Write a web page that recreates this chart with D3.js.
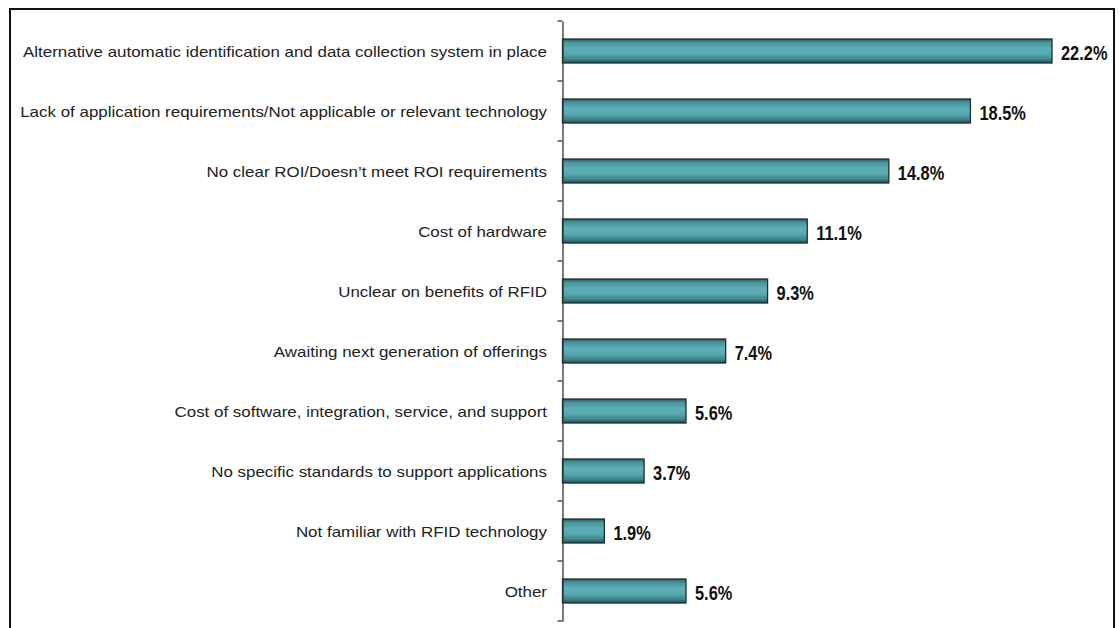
<!DOCTYPE html>
<html>
<head>
<meta charset="utf-8">
<script src="https://cdn.jsdelivr.net/npm/d3@7"></script>
<style>
  html, body { margin: 0; padding: 0; background: #fff; }
  svg { display: block; }
</style>
</head>
<body>
<svg id="chart" width="1120" height="628"></svg>
<script>
// Reasons for not adopting RFID (share of respondents, %)
const categories = [
  "Alternative automatic identification and data collection system in place",
  "Lack of application requirements/Not applicable or relevant technology",
  "No clear ROI/Doesn\u2019t meet ROI requirements",
  "Cost of hardware",
  "Unclear on benefits of RFID",
  "Awaiting next generation of offerings",
  "Cost of software, integration, service, and support",
  "No specific standards to support applications",
  "Not familiar with RFID technology",
  "Other"
];
const values = [22.2, 18.5, 14.8, 11.1, 9.3, 7.4, 5.6, 3.7, 1.9, 5.6];
const valueLabels = ["22.2%", "18.5%", "14.8%", "11.1%", "9.3%", "7.4%", "5.6%", "3.7%", "1.9%", "5.6%"];

const svg = d3.select("#chart");
const axisX = 562.5;
const font = "Liberation Sans, Arial, sans-serif";

const x = d3.scaleLinear().domain([0, 25]).range([axisX, axisX + 25 * 22.05]);
const y = d3.scaleBand().domain(categories).range([21, 621])
  .paddingInner(0.6).paddingOuter(0.3);

// vertical gradient for the bars
const defs = svg.append("defs");
const grad = defs.append("linearGradient").attr("id", "barGrad")
  .attr("x1", 0).attr("y1", 0).attr("x2", 0).attr("y2", 1);
[["0%", "#2b5d62"], ["14%", "#4a9299"], ["40%", "#5db0b8"], ["62%", "#58a8b0"],
 ["85%", "#3f858c"], ["100%", "#24494d"]].forEach(([o, c]) =>
  grad.append("stop").attr("offset", o).attr("stop-color", c));

defs.append("clipPath").attr("id", "frameClip")
  .append("rect").attr("x", 11).attr("y", 10).attr("width", 1102).attr("height", 620);

const g = svg.append("g").attr("clip-path", "url(#frameClip)");

// bars
g.selectAll("rect.bar").data(categories).join("rect")
  .attr("class", "bar")
  .attr("x", x(0))
  .attr("y", d => y(d))
  .attr("width", (d, i) => x(values[i]) - x(0))
  .attr("height", y.bandwidth())
  .attr("fill", "url(#barGrad)")
  .attr("stroke", "#1b3033")
  .attr("stroke-width", 1.3);

// value labels (condensed bold)
g.selectAll("g.val").data(categories).join("g")
  .attr("class", "val")
  .attr("transform", (d, i) =>
    `translate(${x(values[i]) + 9},${y(d) + y.bandwidth() / 2}) scale(0.82,1)`)
  .append("text")
  .attr("dy", "0.46em")
  .attr("font-family", font)
  .attr("font-weight", "bold")
  .attr("font-size", 20)
  .attr("fill", "#111")
  .text((d, i) => valueLabels[i]);

// category axis: domain line with ticks on category boundaries
const axis = d3.axisLeft(y).tickSize(0).tickSizeOuter(0).tickFormat("");
const ax = g.append("g").attr("transform", `translate(${axisX},0)`).call(axis);
ax.select(".domain").attr("stroke", "#333").attr("stroke-width", 1.3);

const gap = (y.step() - y.bandwidth()) / 2;
const boundaries = categories.map(c => y(c) - gap)
  .concat([y(categories[categories.length - 1]) + y.bandwidth() + gap]);
g.selectAll("line.tick").data(boundaries).join("line")
  .attr("class", "tick")
  .attr("x1", axisX - 5).attr("x2", axisX)
  .attr("y1", d => d).attr("y2", d => d)
  .attr("stroke", "#333").attr("stroke-width", 1.3);

// category labels (slightly widened)
g.selectAll("g.cat").data(categories).join("g")
  .attr("class", "cat")
  .attr("transform", d => `translate(${axisX - 15.5},${y(d) + y.bandwidth() / 2}) scale(1.1,1)`)
  .append("text")
  .attr("dy", "0.36em")
  .attr("text-anchor", "end")
  .attr("font-family", font)
  .attr("font-size", 15.4)
  .attr("fill", "#222")
  .text(d => d);

// frame (open at the bottom edge)
svg.append("path")
  .attr("d", "M10,628 V9 H1114 V628")
  .attr("fill", "none")
  .attr("stroke", "#111")
  .attr("stroke-width", 2);
</script>
</body>
</html>
